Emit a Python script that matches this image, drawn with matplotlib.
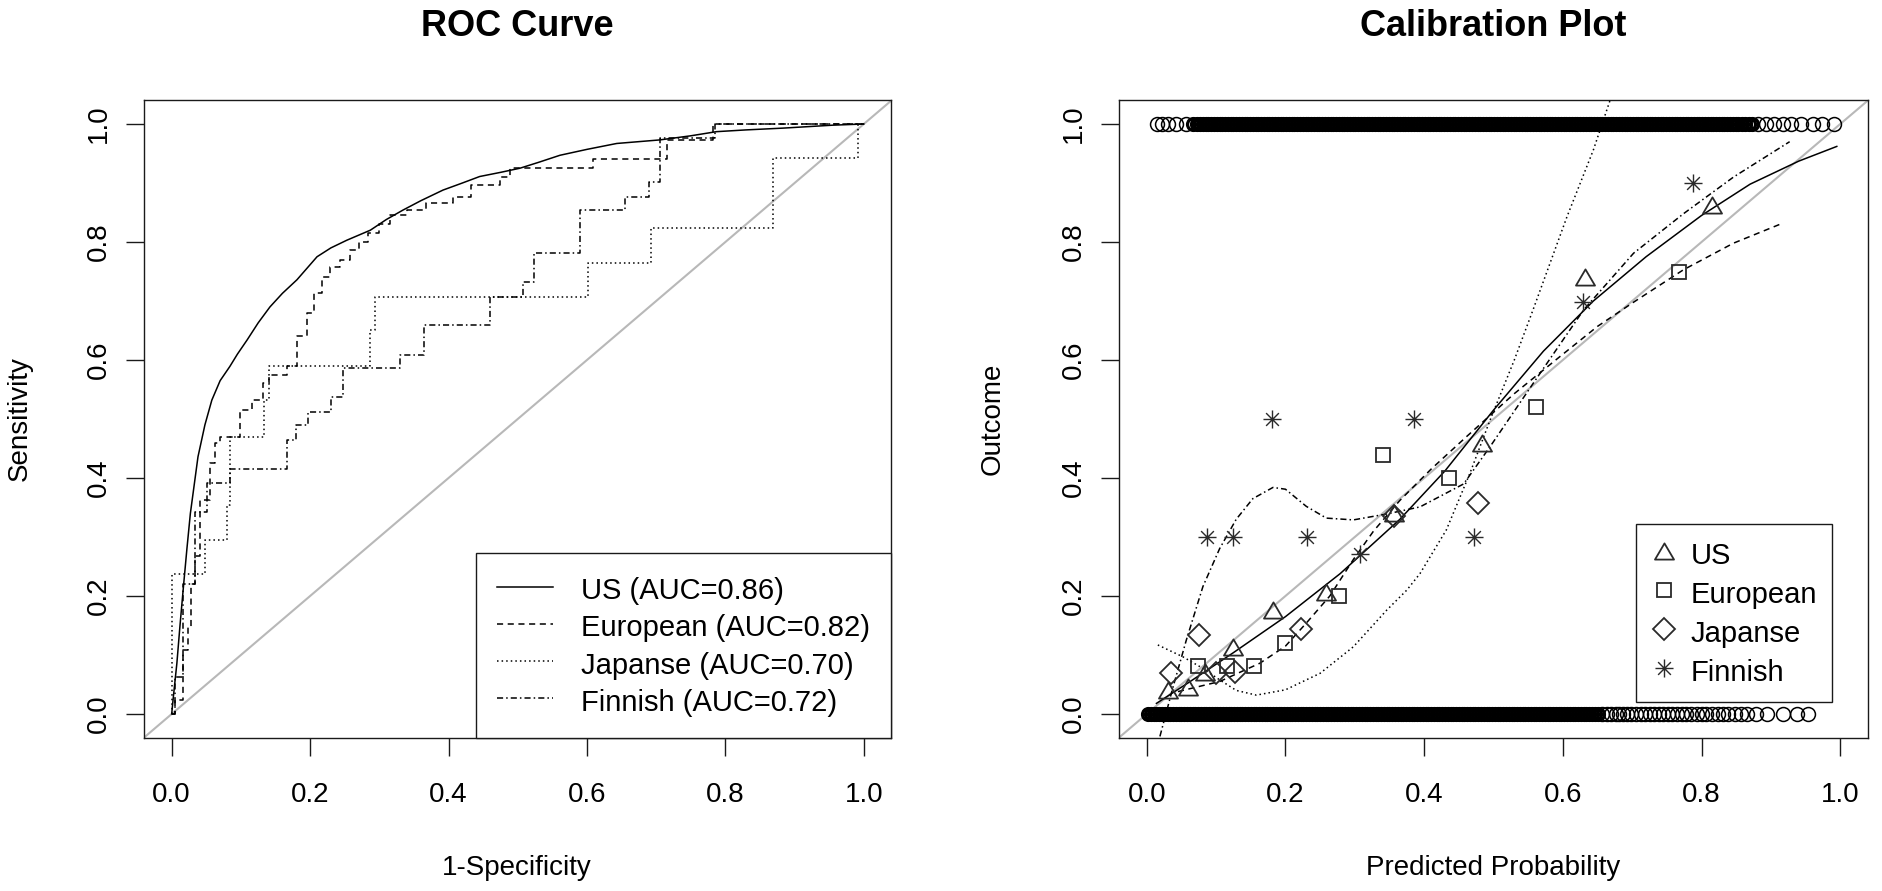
#!/usr/bin/env python3
"""ROC curves and calibration plot for four validation cohorts (base-R look)."""

import matplotlib
matplotlib.use("Agg")
import matplotlib.pyplot as plt
from matplotlib.lines import Line2D
from matplotlib.path import Path
import numpy as np

plt.rcParams["font.family"] = ["Liberation Sans", "DejaVu Sans"]

W, H = 1883, 891

TICKS = [0.0, 0.2, 0.4, 0.6, 0.8, 1.0]
TICK_LABELS = ["0.0", "0.2", "0.4", "0.6", "0.8", "1.0"]
COHORTS = ["US", "European", "Japanse", "Finnish"]
AUC = [0.86, 0.82, 0.70, 0.72]

# ---- ROC curves (corner points) ----
us_fpr = [0, 0.0025, 0.0075, 0.012, 0.017, 0.022, 0.027, 0.038, 0.048, 0.058, 0.07, 0.084,
          0.095, 0.109, 0.125, 0.142, 0.16, 0.181, 0.21, 0.23, 0.253, 0.287, 0.31, 0.334,
          0.36, 0.392, 0.42, 0.445, 0.475, 0.503, 0.53, 0.561, 0.6, 0.643, 0.705, 0.75,
          0.787, 0.83, 0.883, 0.955, 1.0]
us_tpr = [0, 0.03, 0.086, 0.15, 0.216, 0.28, 0.34, 0.436, 0.49, 0.532, 0.565, 0.589,
          0.61, 0.634, 0.663, 0.69, 0.713, 0.736, 0.775, 0.79, 0.803, 0.82, 0.838, 0.854,
          0.87, 0.888, 0.9, 0.911, 0.918, 0.925, 0.935, 0.947, 0.957, 0.967, 0.973, 0.98,
          0.987, 0.99, 0.993, 0.998, 1.0]

eu_fpr = [0, 0.005, 0.017, 0.023, 0.028, 0.034, 0.041, 0.056, 0.0625, 0.07, 0.099, 0.116,
          0.132, 0.14, 0.166, 0.181, 0.195, 0.205, 0.217, 0.229, 0.243, 0.258, 0.27, 0.284,
          0.3, 0.316, 0.34, 0.368, 0.407, 0.433, 0.474, 0.489, 0.609, 0.715, 0.782, 1.0]
eu_tpr = [0, 0.024, 0.108, 0.148, 0.221, 0.267, 0.363, 0.425, 0.459, 0.47, 0.515, 0.532,
          0.561, 0.575, 0.589, 0.64, 0.68, 0.713, 0.74, 0.758, 0.77, 0.786, 0.8, 0.815,
          0.83, 0.846, 0.855, 0.866, 0.877, 0.897, 0.911, 0.925, 0.94, 0.973, 1.0, 1.0]

jp_fpr = [0, 0, 0.048, 0.08, 0.0845, 0.133, 0.14, 0.286, 0.294, 0.602, 0.693, 0.869, 0.992, 1.0]
jp_tpr = [0, 0.238, 0.295, 0.354, 0.47, 0.532, 0.589, 0.651, 0.707, 0.765, 0.824, 0.942, 1.0, 1.0]

fi_fpr = [0, 0.005, 0.017, 0.034, 0.0505, 0.084, 0.166, 0.18, 0.197, 0.23, 0.248, 0.33,
          0.364, 0.46, 0.508, 0.523, 0.59, 0.655, 0.689, 0.705, 0.785, 1.0]
fi_tpr = [0, 0.063, 0.221, 0.343, 0.391, 0.416, 0.464, 0.49, 0.512, 0.538, 0.586, 0.608,
          0.659, 0.707, 0.733, 0.781, 0.854, 0.877, 0.902, 0.976, 1.0, 1.0]

# ---- calibration: grouped observed vs predicted ----
us_pred = [0.031, 0.059, 0.084, 0.125, 0.182, 0.258, 0.356, 0.483, 0.632, 0.815]
us_obs = [0.041, 0.045, 0.072, 0.114, 0.176, 0.206, 0.34, 0.459, 0.741, 0.863]
eu_pred = [0.074, 0.116, 0.154, 0.2, 0.277, 0.341, 0.436, 0.561, 0.768]
eu_obs = [0.081, 0.081, 0.081, 0.121, 0.2, 0.439, 0.4, 0.521, 0.75]
jp_pred = [0.035, 0.075, 0.1, 0.127, 0.223, 0.356, 0.477]
jp_obs = [0.069, 0.134, 0.069, 0.072, 0.144, 0.335, 0.358]
fi_pred = [0.087, 0.125, 0.18, 0.231, 0.307, 0.385, 0.472, 0.629, 0.787]
fi_obs = [0.3, 0.3, 0.5, 0.3, 0.272, 0.5, 0.3, 0.699, 0.9]

# smoothed calibration curves
us_sm_x = [0.014, 0.06, 0.125, 0.2, 0.279, 0.365, 0.43, 0.5, 0.572, 0.644, 0.72, 0.8,
           0.87, 0.94, 0.995]
us_sm_y = [0.018, 0.053, 0.104, 0.165, 0.238, 0.33, 0.412, 0.515, 0.615, 0.7, 0.775, 0.845,
           0.898, 0.937, 0.962]
eu_sm_x = [0.045, 0.105, 0.163, 0.2, 0.23, 0.264, 0.298, 0.327, 0.365, 0.41, 0.461, 0.53,
           0.596, 0.65, 0.702, 0.774, 0.846, 0.913]
eu_sm_y = [0.038, 0.055, 0.086, 0.115, 0.154, 0.2, 0.262, 0.31, 0.362, 0.415, 0.47, 0.543,
           0.606, 0.657, 0.698, 0.753, 0.798, 0.83]
jp_sm_x = [0.016, 0.052, 0.08, 0.105, 0.129, 0.158, 0.2, 0.25, 0.298, 0.346, 0.375, 0.394,
           0.432, 0.466, 0.495, 0.53, 0.557, 0.606, 0.644, 0.668]
jp_sm_y = [0.117, 0.097, 0.078, 0.058, 0.04, 0.032, 0.041, 0.069, 0.114, 0.176, 0.21, 0.238,
           0.312, 0.408, 0.498, 0.6, 0.685, 0.843, 0.956, 1.04]
fi_sm_x = [0.019, 0.038, 0.057, 0.081, 0.105, 0.129, 0.153, 0.182, 0.2, 0.23, 0.259,
           0.298, 0.346, 0.394, 0.457, 0.495, 0.557, 0.63, 0.702, 0.774, 0.846, 0.927]
fi_sm_y = [-0.038, 0.046, 0.125, 0.216, 0.28, 0.33, 0.365, 0.384, 0.381, 0.352, 0.332,
           0.329, 0.339, 0.351, 0.39, 0.453, 0.56, 0.685, 0.781, 0.848, 0.91, 0.97]

# individual predicted probabilities (per mille): events (y=1) and non-events (y=0);
# the "dense" stretches are where hundreds of patients overlap into a solid band
events_dense_pm = [66, 73, 77, 81, 85, 89, 93, 97, 101, 105, 109, 113, 117, 121, 125, 129,
                   133, 137, 141, 145, 149, 153, 157, 161, 165, 169, 173, 177, 181, 185, 189,
                   193, 197, 201, 205, 209, 213, 217, 221, 225, 229, 233, 237, 241, 245, 249,
                   253, 257, 261, 265, 269, 273, 277, 281, 285, 289, 293, 297, 301, 305, 309,
                   313, 317, 321, 325, 329, 333, 337, 341, 345, 349, 353, 357, 361, 365, 369,
                   373, 377, 381, 385, 389, 393, 397, 401, 405, 409, 413, 417, 421, 425, 429,
                   433, 437, 441, 445, 449, 453, 457, 461, 465, 469, 473, 477, 481, 485, 489,
                   493, 497, 501, 505, 509, 513, 517, 521, 525, 529, 533, 537, 541, 545, 549,
                   553, 557, 561, 565, 569, 573, 577, 581, 585, 589, 593, 597, 601, 605, 609,
                   613, 617, 621, 625, 629, 633, 637, 641, 645, 649, 653, 657, 661, 665, 669,
                   673, 677, 681, 685, 689, 693, 697, 701, 705, 709, 713, 717, 721, 725, 729,
                   733, 737, 741, 745, 749, 753, 757, 761, 765, 769, 773, 777, 781, 785, 789,
                   793, 797, 801, 805, 809, 813, 817, 821, 825, 829, 833, 837, 841, 845, 849,
                   853, 858, 863, 868, 873]
events_sparse_pm = [15, 22, 30, 42, 57, 882, 893, 905, 918, 929, 943, 960, 974, 991]
nonevents_dense_pm = [2, 6, 10, 14, 18, 22, 26, 30, 34, 38, 42, 46, 50, 54, 58, 62, 66, 70,
                      74, 78, 82, 86, 90, 94, 98, 102, 106, 110, 114, 118, 122, 126, 130, 134,
                      138, 142, 146, 150, 154, 158, 162, 166, 170, 174, 178, 182, 186, 190,
                      194, 198, 202, 206, 210, 214, 218, 222, 226, 230, 234, 238, 242, 246,
                      250, 254, 258, 262, 266, 270, 274, 278, 282, 286, 290, 294, 298, 302,
                      306, 310, 314, 318, 322, 326, 330, 334, 338, 342, 346, 350, 354, 358,
                      362, 366, 370, 374, 378, 382, 386, 390, 394, 398, 402, 406, 410, 414,
                      418, 422, 426, 430, 434, 438, 442, 446, 450, 454, 458, 462, 466, 470,
                      474, 478, 482, 486, 490, 494, 498, 502, 506, 510, 514, 518, 522, 526,
                      530, 534, 538, 542, 546, 550, 554, 558, 562, 566, 570, 574, 578, 582,
                      586, 590, 594, 598, 602, 606, 610, 614, 618, 622, 626, 630, 634, 638,
                      642, 646, 650]
nonevents_sparse_pm = [657, 663, 670, 676, 681, 687, 693, 698, 706, 713, 719, 726, 732, 739,
                       745, 752, 758, 765, 772, 778, 785, 793, 800, 807, 815, 823, 831, 838,
                       848, 857, 866, 878, 895, 917, 938, 954]

LINESTYLES = ["-", (0, (4, 3)), (0, (1, 2)), (0, (4, 2, 1, 2))]
INK = "#1a1a1a"
GREY = "#b8b8b8"
FS = 20
LEG_FS = 21

TRIANGLE = Path([(0, 0.85), (-1, -0.85), (1, -0.85), (0, 0.85)],
                [Path.MOVETO, Path.LINETO, Path.LINETO, Path.CLOSEPOLY])
ASTERISK = Path([(-1, 0), (1, 0), (0, -1), (0, 1),
                 (-0.707, -0.707), (0.707, 0.707), (-0.707, 0.707), (0.707, -0.707)],
                [Path.MOVETO, Path.LINETO] * 4)
# marker, size, edge width
MARKERS = [(TRIANGLE, 13.7, 1.3), ("s", 10.0, 1.3), ("D", 10.7, 1.3), (ASTERISK, 13.0, 1.0)]


def px(x, y):
    return x / W, 1 - y / H


def style_axes(ax):
    ax.set_xlim(-0.04, 1.04)
    ax.set_ylim(-0.04, 1.04)
    ax.set_xticks(TICKS)
    ax.set_xticklabels(TICK_LABELS)
    ax.set_yticks(TICKS)
    ax.set_yticklabels(TICK_LABELS, rotation=90, va="center")
    ax.tick_params(direction="out", length=13, width=1.0, labelsize=FS, color=INK)
    ax.tick_params(axis="x", pad=19)
    ax.tick_params(axis="y", pad=10)
    for s in ax.spines.values():
        s.set_linewidth(1.0)
        s.set_color(INK)
    ax.axline((0, 0), (1, 1), color=GREY, lw=1.5, zorder=1)


def add_legend(ax, handles, labels, **kw):
    leg = ax.legend(handles, labels, loc="lower right", borderaxespad=0, fontsize=LEG_FS,
                    fancybox=False, edgecolor=INK, framealpha=1, handleheight=1.25, **kw)
    leg.get_frame().set_linewidth(1.0)


def draw_roc(ax):
    curves = [(us_fpr, us_tpr), (eu_fpr, eu_tpr), (jp_fpr, jp_tpr), (fi_fpr, fi_tpr)]
    handles = []
    for i, (fpr, tpr) in enumerate(curves):
        ds = "default" if i == 0 else "steps-post"
        ax.plot(fpr, tpr, color="black", lw=1.1, ls=LINESTYLES[i], drawstyle=ds, zorder=3)
        handles.append(Line2D([], [], color="black", lw=1.1, ls=LINESTYLES[i]))
    labels = [f"{c} (AUC={a:.2f})" for c, a in zip(COHORTS, AUC)]
    add_legend(ax, handles, labels, handlelength=1.95, handletextpad=0.96, borderpad=0.72,
               labelspacing=0.2)
    style_axes(ax)


def draw_calibration(ax):
    for dense, sparse, level in [(events_dense_pm, events_sparse_pm, 1.0),
                                 (nonevents_dense_pm, nonevents_sparse_pm, 0.0)]:
        d = np.array(dense) / 1000
        s = np.array(sparse) / 1000
        ax.plot(d, np.full_like(d, level), "o", ms=8.6, mfc="none", mec="black",
                mew=2.3, zorder=2)
        ax.plot(s, np.full_like(s, level), "o", ms=10.0, mfc="none", mec="black",
                mew=1.1, zorder=2)

    smooth = [(us_sm_x, us_sm_y), (eu_sm_x, eu_sm_y), (jp_sm_x, jp_sm_y), (fi_sm_x, fi_sm_y)]
    groups = [(us_pred, us_obs), (eu_pred, eu_obs), (jp_pred, jp_obs), (fi_pred, fi_obs)]
    handles = []
    for i in range(4):
        sx, sy = smooth[i]
        ax.plot(sx, sy, color="black", lw=1.1, ls=LINESTYLES[i], zorder=3)
        m, ms, mew = MARKERS[i]
        gx, gy = groups[i]
        ax.plot(gx, gy, ls="none", marker=m, ms=ms, mfc="none", mec="#2a2a2a", mew=mew,
                zorder=4)
        handles.append(Line2D([], [], ls="none", marker=m, ms=ms, mfc="none",
                              mec="#2a2a2a", mew=mew))
    add_legend(ax, handles, COHORTS, bbox_to_anchor=(0.952, 0.056), handlelength=0.89,
               handletextpad=0.48, borderpad=0.51, labelspacing=0.27)
    style_axes(ax)


def main():
    fig = plt.figure(figsize=(W / 100, H / 100), dpi=100)
    bottom = 1 - 737.6 / H
    height = (737.6 - 100.4) / H
    ax1 = fig.add_axes([144 / W, bottom, (891.5 - 144) / W, height])
    ax2 = fig.add_axes([1119 / W, bottom, (1868 - 1119) / W, height])

    draw_roc(ax1)
    draw_calibration(ax2)

    fig.text(*px(517, 27), "ROC Curve", fontsize=26, fontweight="bold", ha="center", va="center")
    fig.text(*px(1493, 27), "Calibration Plot", fontsize=26, fontweight="bold",
             ha="center", va="center")
    fig.text(*px(517, 868), "1-Specificity", fontsize=FS, ha="center", va="center")
    fig.text(*px(1493, 868), "Predicted Probability", fontsize=FS, ha="center", va="center")
    fig.text(*px(20, 419), "Sensitivity", fontsize=FS, rotation=90, ha="center", va="center")
    fig.text(*px(993, 419), "Outcome", fontsize=FS, rotation=90, ha="center", va="center")

    fig.savefig("out.png", dpi=100)
    plt.close(fig)


if __name__ == "__main__":
    main()
